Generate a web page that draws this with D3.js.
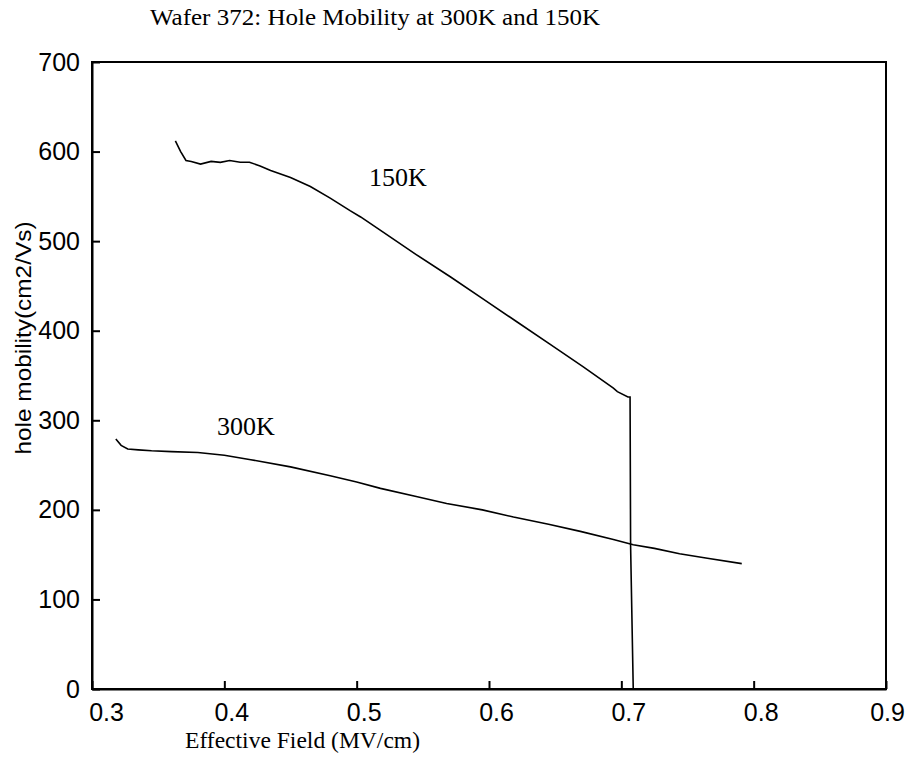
<!DOCTYPE html>
<html>
<head>
<meta charset="utf-8">
<script src="https://cdn.jsdelivr.net/npm/d3@7"></script>
<style>
  body { margin: 0; background: #fff; }
  .tick text { font-family: "Liberation Sans", Arial, sans-serif; font-size: 25px; fill: #000; }
</style>
</head>
<body>
<svg id="chart"></svg>
<script>
// Effective field (MV/cm) and hole mobility (cm2/Vs)
const field300 = [0.318, 0.322, 0.327, 0.335, 0.345, 0.36, 0.38, 0.40, 0.42, 0.45, 0.48, 0.50,
                  0.518, 0.545, 0.568, 0.595, 0.6185, 0.645, 0.669, 0.694, 0.709, 0.725, 0.744, 0.765, 0.791];
const mob300   = [279, 272, 268, 267, 266, 265, 264, 261, 256, 248, 238, 231,
                  224, 215, 207, 200, 192, 184, 176, 167, 161, 157, 151, 146, 140];

const field150 = [0.363, 0.367, 0.371, 0.375, 0.382, 0.39, 0.397, 0.404, 0.412, 0.419, 0.427, 0.435,
                  0.45, 0.465, 0.48, 0.495, 0.503, 0.52, 0.545, 0.571, 0.596, 0.621, 0.646, 0.671,
                  0.694, 0.697, 0.705, 0.7066, 0.707, 0.709, 0.72, 0.75, 0.79];
const mob150   = [612, 600, 590, 589, 586, 589, 588, 590, 588, 588, 584, 579,
                  571, 561, 548, 534, 527, 510, 485, 460, 435, 410, 385, 360,
                  336, 332, 326, 326, 160, 0, 0, 0, 0];

const xTicks = [0.3, 0.4, 0.5, 0.6, 0.7, 0.8, 0.9];
const yTicks = [0, 100, 200, 300, 400, 500, 600, 700];

const width = 907, height = 757;
const margin = {top: 62, right: 21, bottom: 68, left: 92};

const svg = d3.select("#chart")
  .attr("width", width)
  .attr("height", height);

const x = d3.scaleLinear().domain([0.3, 0.9]).range([margin.left, width - margin.right]);
const y = d3.scaleLinear().domain([0, 700]).range([height - margin.bottom, margin.top]);

// axes, ticks pointing inward like the old matlab figure
const xAxis = svg.append("g")
  .attr("transform", `translate(0,${height - margin.bottom})`)
  .call(d3.axisBottom(x).tickValues(xTicks).tickSizeInner(-8).tickSizeOuter(0).tickPadding(14)
    .tickFormat(d3.format(".1f")));
xAxis.selectAll("text").attr("dx", (d, i) => i === 0 ? 14 : (i === xTicks.length - 1 ? 1 : 7));

const yAxis = svg.append("g")
  .attr("transform", `translate(${margin.left},0)`)
  .call(d3.axisLeft(y).tickValues(yTicks).tickSizeInner(-8).tickSizeOuter(0).tickPadding(12));

svg.selectAll(".domain, .tick line").attr("stroke", "#000").attr("stroke-width", 2);

// box around the plot area
svg.append("rect")
  .attr("x", x(0.3)).attr("y", y(700))
  .attr("width", x(0.9) - x(0.3)).attr("height", y(0) - y(700))
  .attr("fill", "none").attr("stroke", "#000").attr("stroke-width", 2);

const line = d3.line()
  .x(d => x(d[0]))
  .y(d => y(d[1]));

svg.append("path")
  .datum(d3.zip(field300, mob300))
  .attr("d", line)
  .attr("fill", "none").attr("stroke", "#000").attr("stroke-width", 1.6);

svg.append("path")
  .datum(d3.zip(field150, mob150))
  .attr("d", line)
  .attr("fill", "none").attr("stroke", "#000").attr("stroke-width", 1.6);

// curve labels
const serif = '"Liberation Serif", "Times New Roman", serif';
svg.append("text").attr("x", 369).attr("y", 186)
  .style("font-family", serif).style("font-size", "26px").text("150K");
svg.append("text").attr("x", 217).attr("y", 435)
  .style("font-family", serif).style("font-size", "26px").text("300K");

// title and axis titles
svg.append("text").attr("x", 150).attr("y", 25)
  .attr("textLength", 450).attr("lengthAdjust", "spacingAndGlyphs")
  .style("font-family", serif).style("font-size", "24px").text("Wafer 372: Hole Mobility at 300K and 150K");

svg.append("text").attr("x", 185).attr("y", 748)
  .attr("textLength", 235).attr("lengthAdjust", "spacingAndGlyphs")
  .style("font-family", serif).style("font-size", "23.5px").text("Effective Field (MV/cm)");

svg.append("text")
  .attr("transform", "translate(31,338) rotate(-90)")
  .attr("text-anchor", "middle")
  .attr("textLength", 233).attr("lengthAdjust", "spacingAndGlyphs")
  .style("font-family", '"Liberation Sans", Arial, sans-serif').style("font-size", "22px")
  .text("hole mobility(cm2/Vs)");
</script>
</body>
</html>
